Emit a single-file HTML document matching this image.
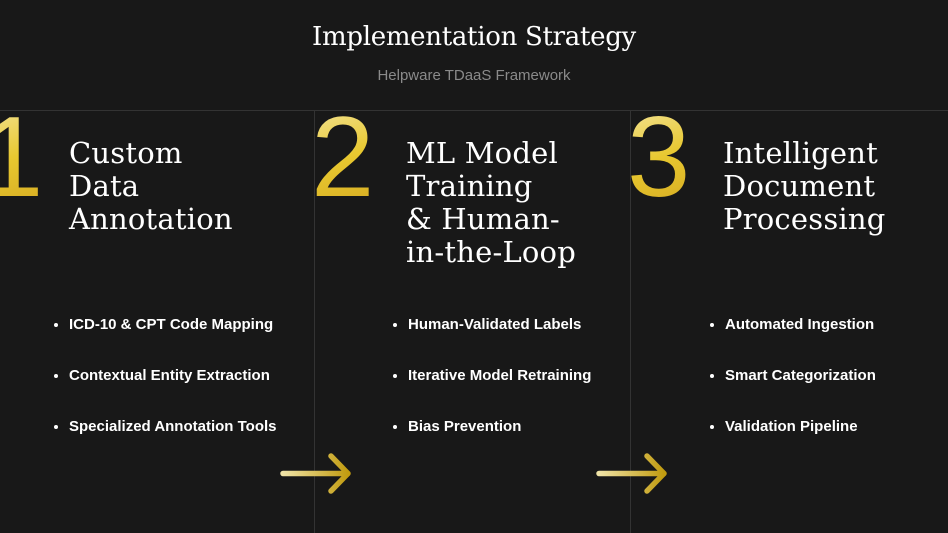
<!DOCTYPE html>
<html><head><style>
body{margin:0;width:948px;height:533px;background:#181818;overflow:hidden;position:relative;font-family:"Liberation Sans",sans-serif;color:#fff}
.a{position:absolute}
h1{position:absolute;top:22px;left:0;width:948px;text-align:center;margin:0;font:400 26px "DejaVu Serif","Liberation Serif",serif;letter-spacing:-0.3px}
.sub{top:67px;left:0;width:948px;text-align:center;font-size:15px;color:#8a8a8a}
.hl{top:110px;left:0;width:948px;height:1px;background:#333}
.vl{top:110px;width:1px;height:423px;background:#333}
.num{font:300 114px "Liberation Sans",sans-serif;line-height:1;top:101px;background:linear-gradient(160deg,#f4e6a0,#e8c830 50%,#d4a820);-webkit-background-clip:text;background-clip:text;color:transparent}
.t{font:400 29px "DejaVu Serif","Liberation Serif",serif;line-height:33px;top:137px;letter-spacing:0.2px}
ul{position:absolute;top:314px;margin:0;padding:0 0 0 14px;font-weight:bold;font-size:15px}
li{height:51px;line-height:22px}
</style></head><body>
<h1>Implementation Strategy</h1>
<div class="a sub">Helpware TDaaS Framework</div>
<div class="a hl"></div>
<div class="a vl" style="left:314px"></div>
<div class="a vl" style="left:630px"></div>
<div class="a num" style="left:-20px">1</div>
<div class="a num" style="left:311px">2</div>
<div class="a num" style="left:627px">3</div>
<div class="a t" style="left:69px">Custom<br>Data<br>Annotation</div>
<div class="a t" style="left:406px">ML Model<br>Training<br>&amp; Human-<br>in-the-Loop</div>
<div class="a t" style="left:723px">Intelligent<br>Document<br>Processing</div>
<ul style="left:55px"><li>ICD-10 &amp; CPT Code Mapping</li><li>Contextual Entity Extraction</li><li>Specialized Annotation Tools</li></ul>
<ul style="left:394px"><li>Human-Validated Labels</li><li>Iterative Model Retraining</li><li>Bias Prevention</li></ul>
<ul style="left:711px"><li>Automated Ingestion</li><li>Smart Categorization</li><li>Validation Pipeline</li></ul>
<svg class="a" style="left:0;top:0" width="948" height="533">
<defs>
<linearGradient id="g1" gradientUnits="userSpaceOnUse" x1="283" y1="0" x2="348" y2="0"><stop offset="0" stop-color="#efe3a6"/><stop offset="1" stop-color="#c29c10"/></linearGradient>
<linearGradient id="g2" gradientUnits="userSpaceOnUse" x1="599" y1="0" x2="664" y2="0"><stop offset="0" stop-color="#efe3a6"/><stop offset="1" stop-color="#c29c10"/></linearGradient>
</defs>
<g fill="none" stroke-width="5.5" stroke-linecap="round" stroke-linejoin="round">
<path d="M283 473.5H348M331 456L348 473.5L331 491" stroke="url(#g1)"/>
<path d="M599 473.5H664M647 456L664 473.5L647 491" stroke="url(#g2)"/>
</g></svg>
</body></html>
